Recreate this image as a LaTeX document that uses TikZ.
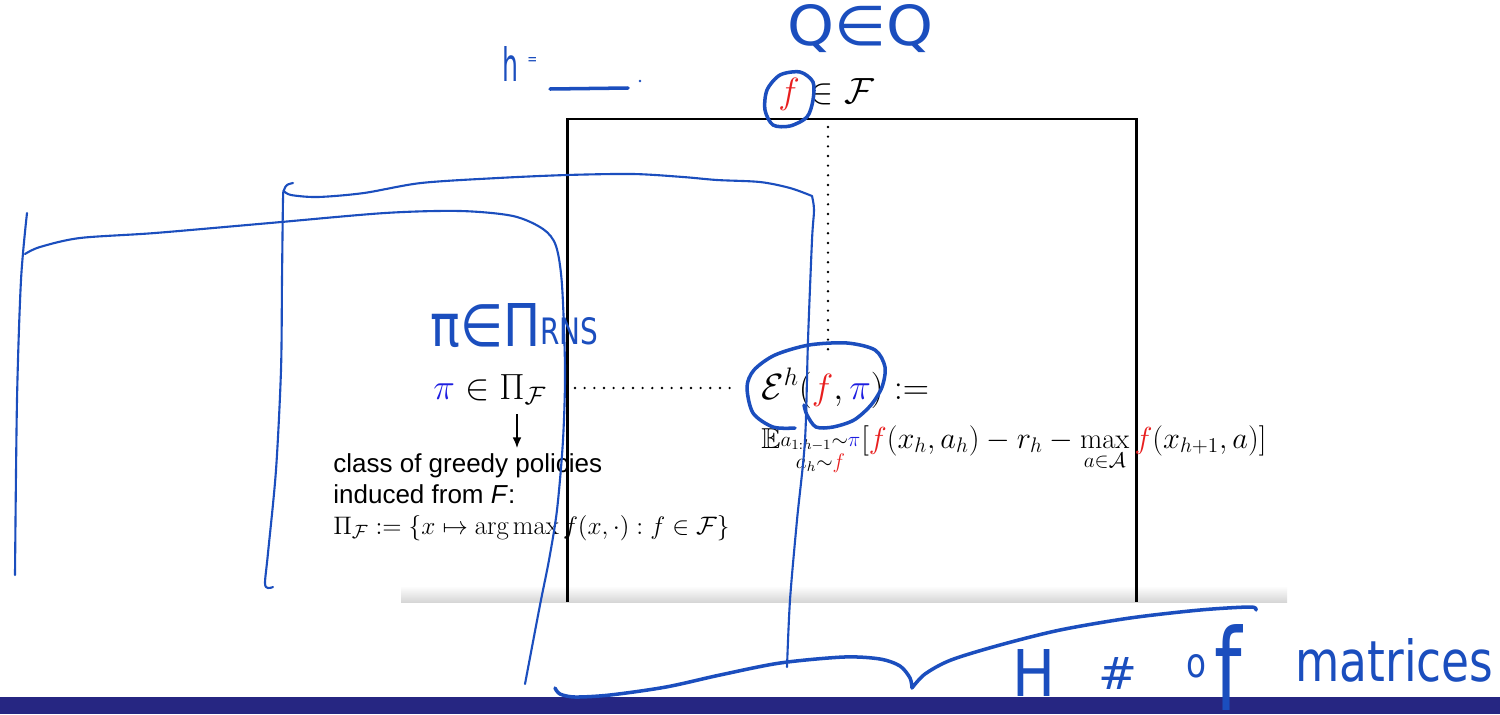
\documentclass[tikz,border=0pt]{standalone}
\usepackage{amsmath,amssymb}
\usepackage{fontspec}
\usetikzlibrary{arrows.meta}
\newfontfamily\helv{Liberation Sans}
\newfontfamily\hand{DejaVu Sans}
\definecolor{hblue}{RGB}{27,78,190}
\definecolor{barblue}{RGB}{38,38,130}
\definecolor{fred}{RGB}{232,30,30}
\definecolor{piblue}{RGB}{30,30,225}
\newcommand{\handbox}[3]{\resizebox{#1}{#2}{\hand #3}}
\begin{document}
\begin{tikzpicture}[x=0.02cm,y=-0.02cm,
  hand/.style={draw=hblue,line width=1.2pt,line cap=round,line join=round},
  handthick/.style={hand,line width=2pt},
  htext/.style={text=hblue,inner sep=0pt,anchor=south west},
  dotline/.style={line width=1.5pt,line cap=round,dash pattern=on 0pt off 5.5pt},
  frame/.style={line width=1.7pt},
  mtext/.style={inner sep=0pt,anchor=base west},
  bigmath/.style={mtext,font=\fontsize{20.6}{25}\selectfont},
  smallmath/.style={mtext,font=\fontsize{16.4}{19}\selectfont},
  helvtext/.style={mtext,font=\helv\fontsize{14.8}{17}\selectfont}]
\useasboundingbox (0,0) rectangle (1500,714);
\fill[white] (0,0) rectangle (1500,714);
% grey fade and bottom bar
\shade[top color=white,bottom color=black!16] (401,586) rectangle (1287,602);
\fill[barblue] (0,697) rectangle (1500,714);
% frame
\draw[frame] (567,602) -- (567,119) -- (1136,119) -- (1136,602);
% math texts
\node[bigmath,font=\fontsize{21}{25}\selectfont] (fF) at (778,103) {$\textcolor{fred}{f}\in\mathcal{F}$};
\node[bigmath,font=\fontsize{21}{25}\selectfont] (piF) at (433,399) {$\textcolor{piblue}{\pi}\in\Pi_{\mathcal{F}}$};
\node[bigmath] (Eh) at (761,399) {$\mathcal{E}^h(\textcolor{fred}{f},\textcolor{piblue}{\pi}) :=$};
\node[smallmath] (Eexp) at (761,448) {$\mathbb{E}_{\substack{a_{1:h-1}\sim\textcolor{piblue}{\pi}\\ a_h\sim\textcolor{fred}{f}}}[\textcolor{fred}{f}(x_h,a_h)-r_h-\max\limits_{a\in\mathcal{A}}\textcolor{fred}{f}(x_{h+1},a)]$};
\node[helvtext] (cls1) at (333,472) {class of greedy policies};
\node[helvtext] (cls2) at (333,503) {induced from \textit{F}:};
\node[mtext,font=\fontsize{15.2}{18}\selectfont] (PiDef) at (333,534) {$\Pi_{\mathcal{F}}:=\{x\mapsto\arg\max f(x,\cdot):f\in\mathcal{F}\}$};
% dotted connectors
\coordinate (vtop) at (828,127);
\coordinate (vbot) at (828,355);
\coordinate (hl) at (575,388);
\coordinate (hr) at (733,388);
\draw[dotline] (vtop) -- (vbot);
\draw[dotline] (hl) -- (hr);
% arrow
\coordinate (arrS) at (517,414);
\coordinate (arrE) at (517,448);
\draw[line width=0.9pt,-{Latex[length=6pt,width=5pt]}] (arrS) -- (arrE);
% handwritten text
\node[htext] (hlab) at (502,82) {\handbox{0.32cm}{0.7cm}{h}};
\node[htext] (heq) at (527,65) {\handbox{0.2cm}{0.14cm}{=}};
\node[htext] (QQ) at (787,53) {\handbox{2.92cm}{0.82cm}{Q∈Q}};
\node[htext] (piPi) at (430,348) {\handbox{2.2cm}{0.86cm}{π∈Π}};
\node[htext] (rns) at (540,345) {\handbox{1.16cm}{0.54cm}{RNS}};
\node[htext] (Hl) at (1012,697) {\handbox{0.86cm}{0.94cm}{H}};
\node[htext] (hash) at (1098,690) {\handbox{0.78cm}{0.64cm}{\#}};
\node[htext] (ol) at (1186,678) {\handbox{0.4cm}{0.46cm}{o}};
\node[htext] (fl) at (1214,711) {\handbox{0.55cm}{1.72cm}{f}};
\node[htext] (matr) at (1295,683) {\handbox{3.96cm}{0.86cm}{matrices}};
% handwritten strokes
\draw[hand,line width=2pt] (550,89) -- (628,88);
\fill[hblue] (640,81) circle (1.3);
% A: far left vertical
\draw[hand] plot[smooth] coordinates {(27,213) (21,280) (17,400) (15,575)};
% B: big bracket
\draw[hand] plot[smooth] coordinates {(25,254) (40,247) (80,238) (155,233) (270,223) (385,213) (460,211) (513,216) (543,229) (556,246) (562,285) (565,370) (563,440) (557,510) (549,560) (540,605) (525,684)};
% C: second bracket
\draw[hand] plot[smooth] coordinates {(293,183) (287,185) (284,190) (283,200) (282,280) (281,370) (276,470) (268,553) (265,583) (268,588) (273,587)};
\draw[hand] plot[smooth] coordinates {(284,191) (291,195) (318,197) (364,193) (421,183) (498,178) (567,175) (633,174) (683,177) (717,180) (760,182) (790,188) (812,196)}
  -- plot[smooth] coordinates {(812,196) (814,210) (812,240) (808,340) (805,440) (797,520) (790,600) (787,667)};
% D: bottom brace
\draw[handthick] plot[smooth] coordinates {(555,688) (560,694) (575,697) (610,695) (666,687) (720,675) (780,663) (844,657) (880,659) (900,666) (910,678) (912,688)}
  -- plot[smooth] coordinates {(912,688) (925,674) (951,660) (1000,645) (1060,630) (1130,618) (1200,610) (1250,607) (1256,610)};
% E: loop around top f
\draw[handthick] plot[smooth cycle] coordinates {(800,72) (813,82) (813,100) (807,117) (790,126) (773,125) (765,110) (767,90) (780,75)};
% F: loop around E^h(f,
\draw[handthick] plot[smooth] coordinates {(795,428) (773,427) (753,413) (747,387) (754,370) (775,355) (809,345) (847,343) (875,350) (885,367) (882,387) (871,405) (854,420) (833,427) (816,427) (807,415) (804,405)};
\end{tikzpicture}
\end{document}
